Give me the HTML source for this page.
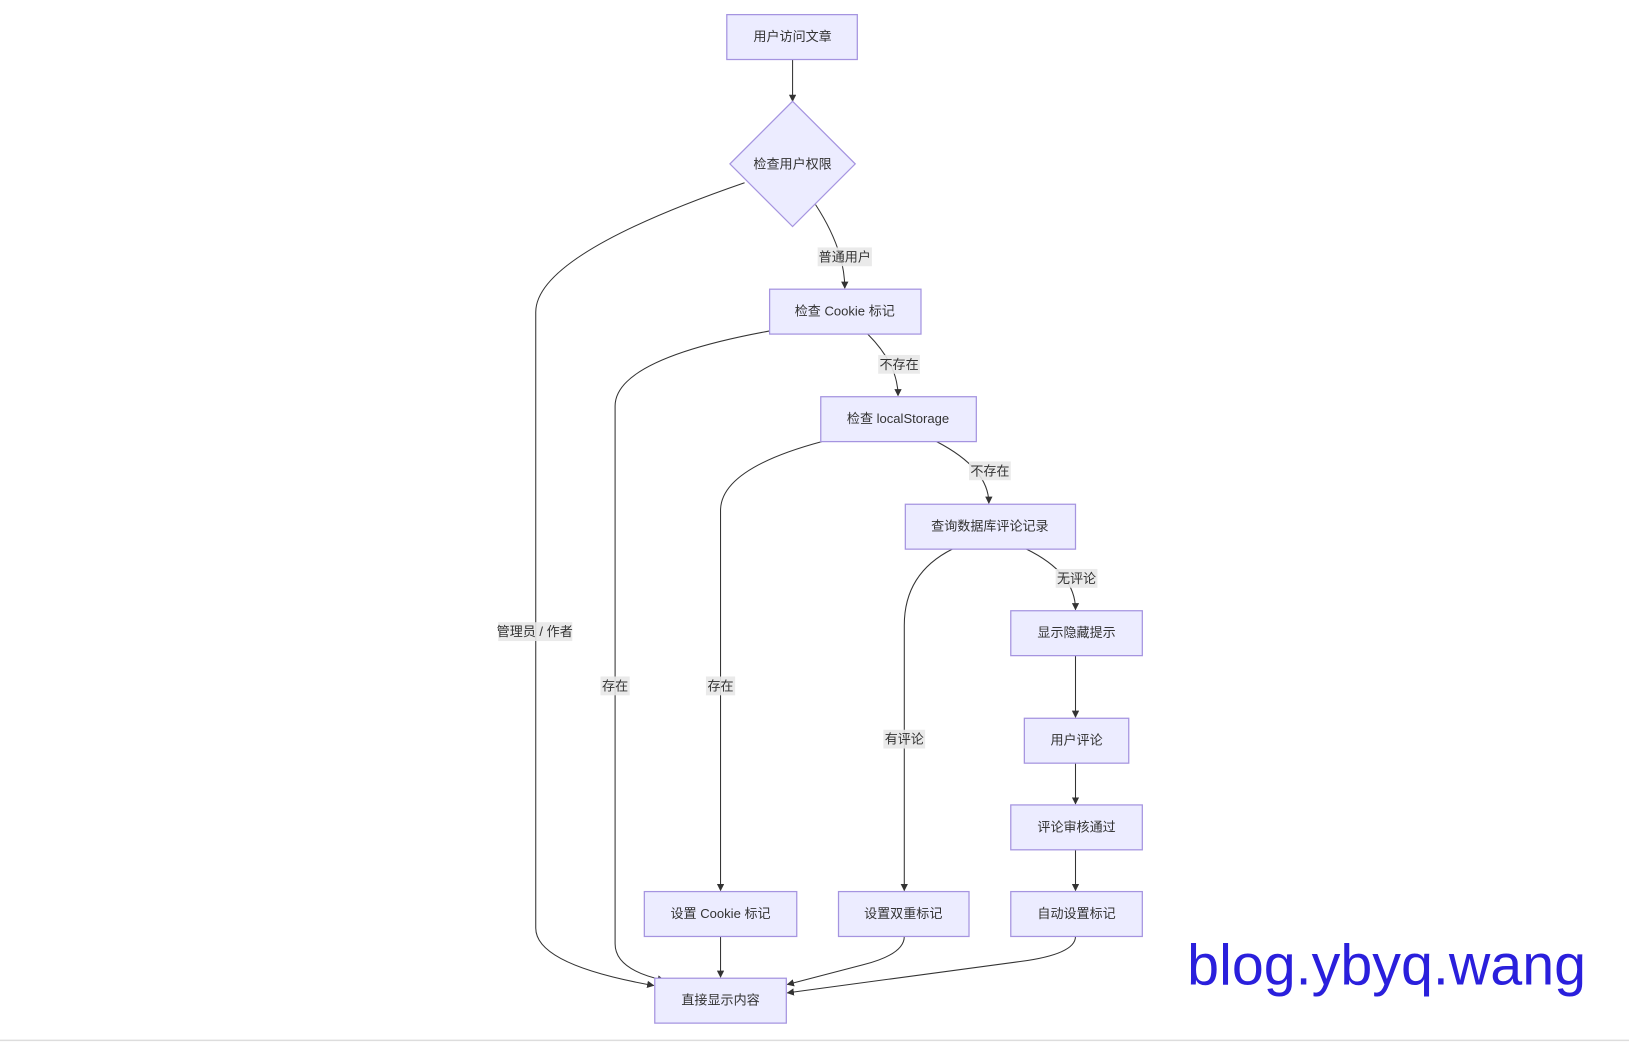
<!DOCTYPE html>
<html><head><meta charset="utf-8"><style>
html,body{margin:0;padding:0;background:#fff;width:1629px;height:1044px;overflow:hidden}
svg{display:block}
text{font-family:"Liberation Sans","Noto Sans CJK SC",sans-serif;font-size:12.5px;fill:#333;text-anchor:middle;dominant-baseline:central}
.n{fill:#ECECFF;stroke:#a594e0;stroke-width:1.2}
.e{fill:none;stroke:#333;stroke-width:1}
.lb{fill:#e8e8e8;opacity:.9}
</style></head><body>
<svg width="1629" height="1044" viewBox="3 1 1560 1000">
<defs><marker id="a" viewBox="0 0 10 10" refX="9" refY="5" markerWidth="7" markerHeight="7" orient="auto"><path d="M0,0L10,5L0,10z" fill="#333"/></marker></defs>
<path class="e" marker-end="url(#a)" d="M762,58 L762,98"/>
<path class="e" marker-end="url(#a)" d="M784,197 Q812,240 812,277"/>
<path class="e" marker-end="url(#a)" d="M716,176 Q516,245 516,300 L516,890 Q516,925 629,945"/>
<path class="e" marker-end="url(#a)" d="M834,321 Q863,350 863,380"/>
<path class="e" marker-end="url(#a)" d="M740,318 Q592,345 592,390 L592,905 Q592,930 639,940"/>
<path class="e" marker-end="url(#a)" d="M900,424 Q950,450 950,483"/>
<path class="e" marker-end="url(#a)" d="M790,424 Q693,450 693,490 L693,854"/>
<path class="e" marker-end="url(#a)" d="M986,527 Q1033,550 1033,585"/>
<path class="e" marker-end="url(#a)" d="M915,527 Q869,550 869,600 L869,854"/>
<path class="e" marker-end="url(#a)" d="M1033,629 L1033,688"/>
<path class="e" marker-end="url(#a)" d="M1033,732 L1033,771"/>
<path class="e" marker-end="url(#a)" d="M1033,815 L1033,854"/>
<path class="e" marker-end="url(#a)" d="M693,898 L693,937"/>
<path class="e" marker-end="url(#a)" d="M869,898 Q869,915 830,925 L757,944"/>
<path class="e" marker-end="url(#a)" d="M1033,898 Q1033,915 980,922 L757,952"/>
<rect class="lb" x="786" y="238" width="52" height="18"/><text x="812" y="247">普通用户</text>
<rect class="lb" x="480" y="597" width="71" height="18"/><text x="515" y="606">管理员 / 作者</text>
<rect class="lb" x="844" y="341" width="40" height="18"/><text x="864" y="350">不存在</text>
<rect class="lb" x="578" y="649" width="28" height="18"/><text x="592" y="658">存在</text>
<rect class="lb" x="931" y="443" width="40" height="18"/><text x="951" y="452">不存在</text>
<rect class="lb" x="679" y="649" width="28" height="18"/><text x="693" y="658">存在</text>
<rect class="lb" x="1014" y="546" width="40" height="18"/><text x="1034" y="555">无评论</text>
<rect class="lb" x="849" y="700" width="40" height="18"/><text x="869" y="709">有评论</text>
<rect class="n" x="699" y="15" width="125" height="43"/><text x="762" y="36">用户访问文章</text>
<polygon class="n" points="762,98 822,158 762,218 702,158"/><text x="762" y="158">检查用户权限</text>
<rect class="n" x="740" y="278" width="145" height="43"/><text x="812" y="299">检查 Cookie 标记</text>
<rect class="n" x="789" y="381" width="149" height="43"/><text x="863" y="402">检查 localStorage</text>
<rect class="n" x="870" y="484" width="163" height="43"/><text x="951" y="505">查询数据库评论记录</text>
<rect class="n" x="971" y="586" width="126" height="43"/><text x="1034" y="607">显示隐藏提示</text>
<rect class="n" x="984" y="689" width="100" height="43"/><text x="1034" y="710">用户评论</text>
<rect class="n" x="971" y="772" width="126" height="43"/><text x="1034" y="793">评论审核通过</text>
<rect class="n" x="971" y="855" width="126" height="43"/><text x="1034" y="876">自动设置标记</text>
<rect class="n" x="806" y="855" width="125" height="43"/><text x="868" y="876">设置双重标记</text>
<rect class="n" x="620" y="855" width="146" height="43"/><text x="693" y="876">设置 Cookie 标记</text>
<rect class="n" x="630" y="938" width="126" height="43"/><text x="693" y="959">直接显示内容</text>
<text x="1331" y="926" style="font-size:55px;fill:#2a1fdc">blog.ybyq.wang</text>
<line x1="0" y1="997.5" x2="1570" y2="997.5" stroke="#ddd" stroke-width="1.5"/>
</svg>
</body></html>
